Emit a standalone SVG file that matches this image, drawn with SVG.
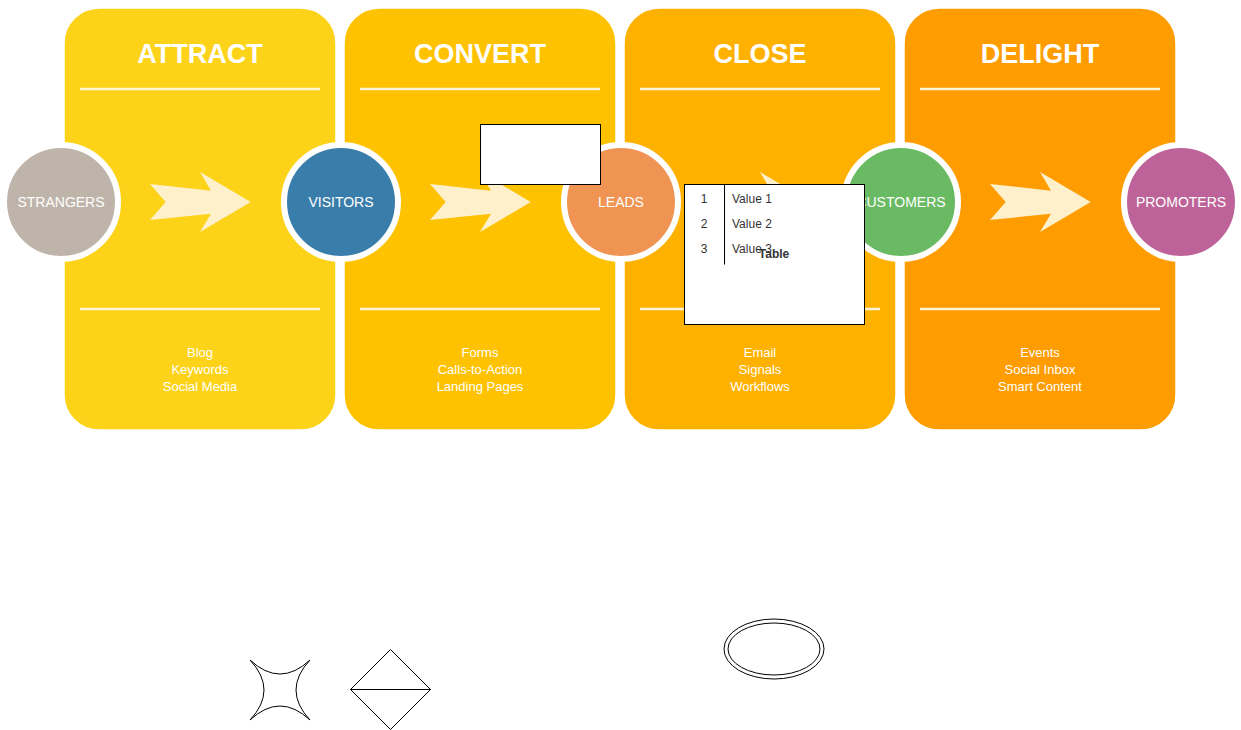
<svg xmlns="http://www.w3.org/2000/svg" width="1241" height="730" viewBox="0 0 1241 730">
  <style>
    .panel { stroke: #ffffff; stroke-width: 1.5; }
    .rule { stroke: #fff4d6; stroke-width: 2.5; fill: none; }
    .title { font-family: "Liberation Sans", Arial, sans-serif; font-size: 27px; font-weight: bold; fill: #ffffff; text-anchor: middle; }
    .items { font-family: "Liberation Sans", Arial, sans-serif; font-size: 13px; fill: #ffffff; text-anchor: middle; }
    .stage { stroke: #ffffff; stroke-width: 6; }
    .stage-label { font-family: "Liberation Sans", Arial, sans-serif; font-size: 14px; fill: #ffffff; text-anchor: middle; }
    .flow { fill: #fff0cc; }
    .outline { fill: #ffffff; stroke: #000000; stroke-width: 1; }
    .line { fill: none; stroke: #000000; stroke-width: 1; }
    .cell { font-family: "Liberation Sans", Arial, sans-serif; font-size: 12px; fill: #333333; }
  </style>
  <defs>
    <path id="chevron" d="M0,-18 L61,-11.3 L50,-30 L100.7,0 L50,30 L61,11.8 L0,18 L15.7,0 Z"/>
  </defs>

  <!-- phase panels -->
  <g id="attract">
    <rect class="panel" x="64" y="8" width="272" height="422" rx="35" fill="#fdd31a"/>
    <text class="title" x="200" y="63">ATTRACT</text>
    <line class="rule" x1="80" y1="89" x2="320" y2="89"/>
    <line class="rule" x1="80" y1="309" x2="320" y2="309"/>
    <text class="items" x="200" y="357">Blog</text>
    <text class="items" x="200" y="374">Keywords</text>
    <text class="items" x="200" y="391">Social Media</text>
  </g>
  <g id="convert">
    <rect class="panel" x="344" y="8" width="272" height="422" rx="35" fill="#fec200"/>
    <text class="title" x="480" y="63">CONVERT</text>
    <line class="rule" x1="360" y1="89" x2="600" y2="89"/>
    <line class="rule" x1="360" y1="309" x2="600" y2="309"/>
    <text class="items" x="480" y="357">Forms</text>
    <text class="items" x="480" y="374">Calls-to-Action</text>
    <text class="items" x="480" y="391">Landing Pages</text>
  </g>
  <g id="close">
    <rect class="panel" x="624" y="8" width="272" height="422" rx="35" fill="#ffb100"/>
    <text class="title" x="760" y="63">CLOSE</text>
    <line class="rule" x1="640" y1="89" x2="880" y2="89"/>
    <line class="rule" x1="640" y1="309" x2="880" y2="309"/>
    <text class="items" x="760" y="357">Email</text>
    <text class="items" x="760" y="374">Signals</text>
    <text class="items" x="760" y="391">Workflows</text>
  </g>
  <g id="delight">
    <rect class="panel" x="904" y="8" width="272" height="422" rx="35" fill="#ff9c00"/>
    <text class="title" x="1040" y="63">DELIGHT</text>
    <line class="rule" x1="920" y1="89" x2="1160" y2="89"/>
    <line class="rule" x1="920" y1="309" x2="1160" y2="309"/>
    <text class="items" x="1040" y="357">Events</text>
    <text class="items" x="1040" y="374">Social Inbox</text>
    <text class="items" x="1040" y="391">Smart Content</text>
  </g>

  <!-- stage circles -->
  <g id="strangers">
    <circle class="stage" cx="61" cy="202" r="57" fill="#bfb4aa"/>
    <text class="stage-label" x="61" y="207">STRANGERS</text>
  </g>
  <g id="visitors">
    <circle class="stage" cx="341" cy="202" r="57" fill="#397dab"/>
    <text class="stage-label" x="341" y="207">VISITORS</text>
  </g>
  <g id="leads">
    <circle class="stage" cx="621" cy="202" r="57" fill="#ef9453"/>
    <text class="stage-label" x="621" y="207">LEADS</text>
  </g>
  <g id="customers">
    <circle class="stage" cx="901" cy="202" r="57" fill="#69ba62"/>
    <text class="stage-label" x="901" y="207">CUSTOMERS</text>
  </g>
  <g id="promoters">
    <circle class="stage" cx="1181" cy="202" r="57" fill="#be6399"/>
    <text class="stage-label" x="1181" y="207">PROMOTERS</text>
  </g>

  <!-- flow arrows between stages -->
  <g id="connectors">
    <use href="#chevron" class="flow" x="150" y="202"/>
    <use href="#chevron" class="flow" x="430" y="202"/>
    <use href="#chevron" class="flow" x="710" y="202"/>
    <use href="#chevron" class="flow" x="990" y="202"/>
  </g>

  <!-- blank box -->
  <g id="box">
    <rect class="outline" x="480.5" y="124.5" width="120" height="60"/>
  </g>

  <!-- table -->
  <g id="table">
    <rect class="outline" x="684.5" y="184.5" width="180" height="140"/>
    <line class="line" x1="724.5" y1="184.5" x2="724.5" y2="264.5"/>
    <text class="cell" x="704" y="203" text-anchor="middle">1</text>
    <text class="cell" x="732" y="203">Value 1</text>
    <text class="cell" x="704" y="228" text-anchor="middle">2</text>
    <text class="cell" x="732" y="228">Value 2</text>
    <text class="cell" x="704" y="253" text-anchor="middle">3</text>
    <text class="cell" x="732" y="253">Value 3</text>
    <text x="774" y="258" font-family="Liberation Sans, Arial, sans-serif" font-size="12" font-weight="bold" fill="#333333" text-anchor="middle">Table</text>
  </g>

  <!-- loose shapes -->
  <g id="star">
    <path class="line" d="M250,660 Q280,688 310,660 Q282,690 310,720 Q280,692 250,720 Q278,690 250,660 Z"/>
  </g>
  <g id="diamond">
    <path class="line" d="M390.5,649.5 L430.5,689.5 L390.5,729.5 L350.5,689.5 Z M350.5,689.5 L430.5,689.5"/>
  </g>
  <g id="ellipse">
    <ellipse class="line" cx="774" cy="649" rx="50" ry="30"/>
    <ellipse class="line" cx="774" cy="649" rx="46" ry="26"/>
  </g>
</svg>
